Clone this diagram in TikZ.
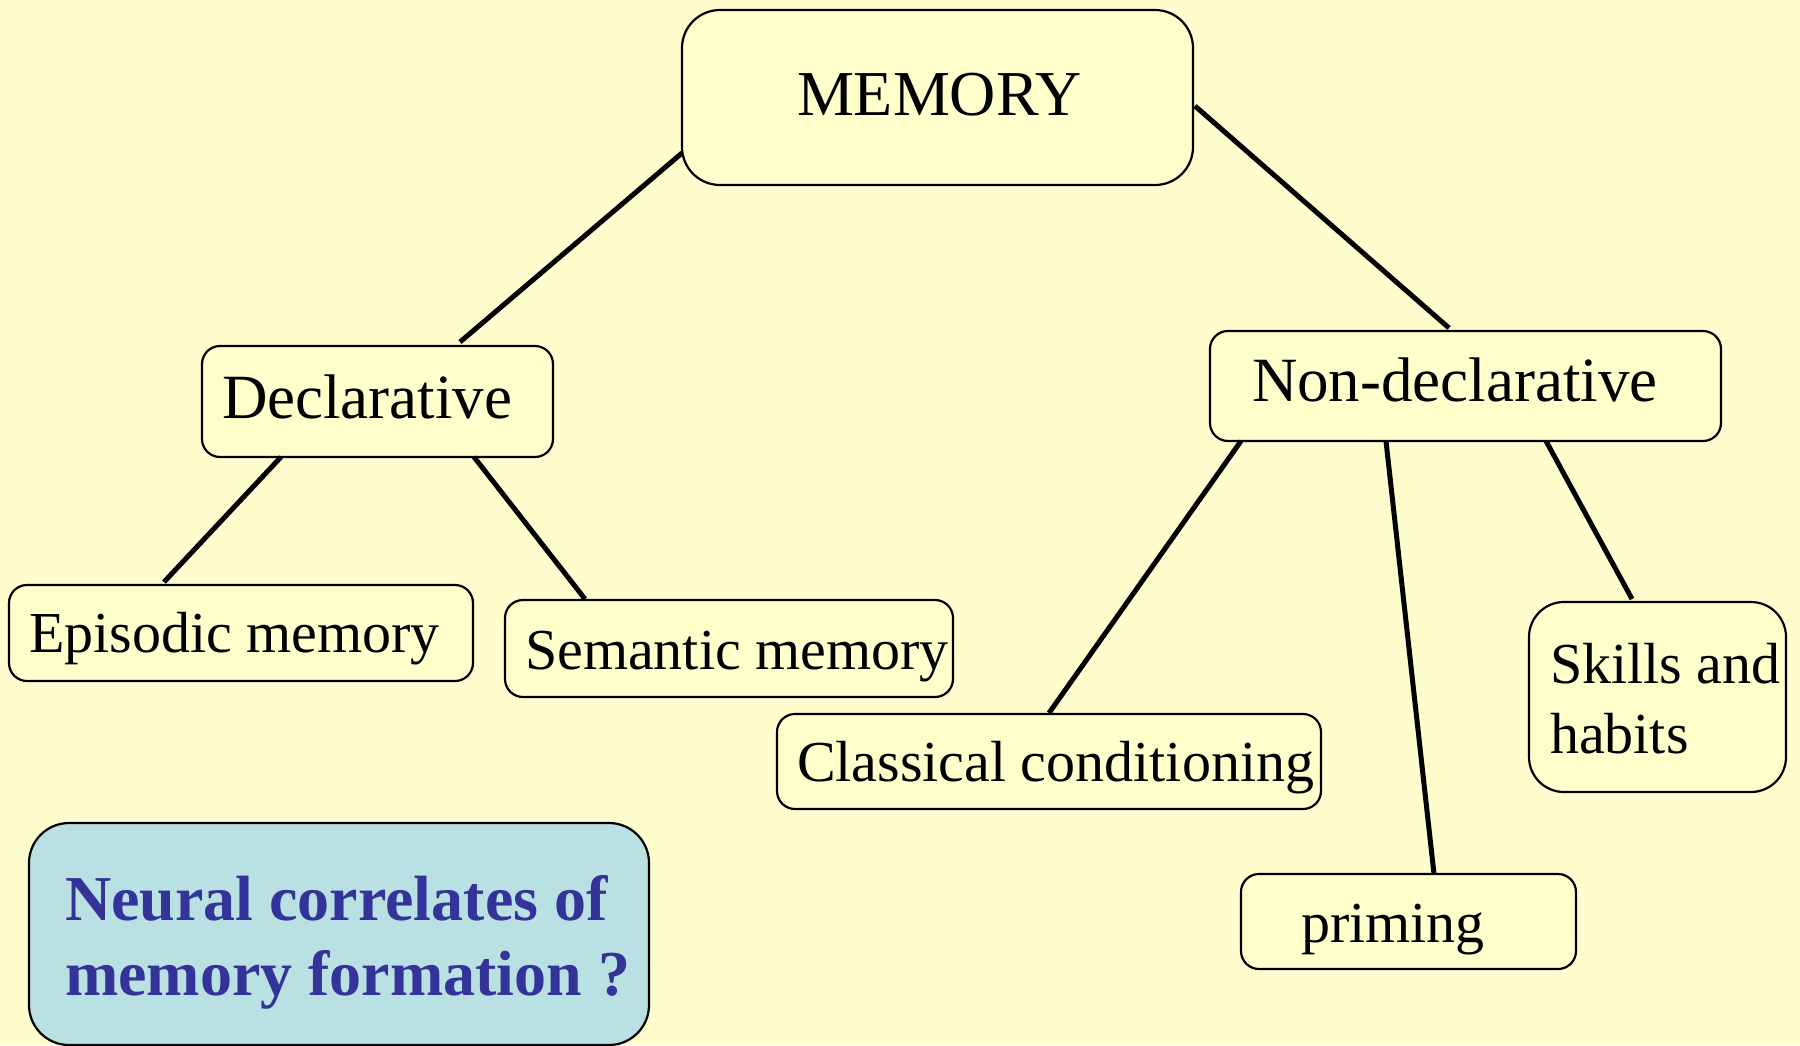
\documentclass[tikz,border=0pt]{standalone}
\usepackage{fontspec}
\setmainfont{Liberation Serif}
\usetikzlibrary{calc}
\definecolor{pagebg}{RGB}{255,252,206}
\definecolor{boxfill}{RGB}{255,255,204}
\definecolor{qfill}{RGB}{185,224,226}
\definecolor{qtext}{RGB}{51,51,153}
\tikzset{
  box/.style={draw=black, line width=2.2pt, fill=boxfill, rounded corners=18pt,
    inner sep=0pt, outer sep=0pt, anchor=north west},
  lbl/.style={inner sep=0pt, outer sep=0pt, anchor=base west},
  leaf/.style={lbl, font=\fontsize{58}{70}\selectfont},
  mid/.style={lbl, font=\fontsize{63}{75}\selectfont},
  link/.style={draw=black, line width=5pt}
}
\begin{document}
\begin{tikzpicture}[x=1pt,y=-1pt]
\useasboundingbox[fill=pagebg] (0,0) rectangle (1800,1045);

% boxes
\node[box, rounded corners=38pt, minimum width=511pt, minimum height=175pt] (mem) at (682,10) {};
\node[box, minimum width=351pt, minimum height=111pt] (decl) at (202,346) {};
\node[box, minimum width=511pt, minimum height=110pt] (nd) at (1210,331) {};
\node[box, minimum width=464pt, minimum height=96pt] (epi) at (9,585) {};
\node[box, minimum width=448pt, minimum height=97pt] (sem) at (505,600) {};
\node[box, minimum width=544pt, minimum height=95pt] (cla) at (777,714) {};
\node[box, rounded corners=35pt, minimum width=257pt, minimum height=190pt] (ski) at (1529,602) {};
\node[box, minimum width=335pt, minimum height=95pt] (pri) at (1241,874) {};
\node[box, fill=qfill, rounded corners=40pt, minimum width=620pt, minimum height=222pt] (neu) at (29,823) {};

% labels
\node[lbl, font=\fontsize{64}{76}\selectfont] (memt) at (797,115) {MEMORY};
\node[mid] (declt) at (222,418) {Declarative};
\node[mid] (ndt) at (1252,401) {Non-declarative};
\node[leaf] (epit) at (29,652) {Episodic memory};
\node[leaf] (semt) at (525,669) {Semantic memory};
\node[leaf] (clat) at (797,781) {Classical conditioning};
\node[leaf, anchor=north west, align=left] (skit) at (1550,643) {Skills and\\habits};
\node[leaf] (prit) at (1301,942) {priming};
\node[inner sep=0pt, outer sep=0pt, anchor=north west, align=left, text=qtext,
      font=\fontsize{64}{75}\selectfont\bfseries] (neut) at (65,875) {Neural correlates of\\memory formation ?};

% connectors
\draw[link] ($(mem.north west)+(0,143)$) -- ($(decl.north west)+(258,-4)$);
\draw[link] ($(mem.north east)+(2,96)$) -- ($(nd.north west)+(239,-3)$);
\draw[link] ($(decl.south west)+(79,0)$) -- ($(epi.north west)+(155,-3)$);
\draw[link] ($(decl.south west)+(272,0)$) -- ($(sem.north west)+(80,-1)$);
\draw[link] ($(nd.south west)+(31,0)$) -- ($(cla.north west)+(272,-1)$);
\draw[link] ($(nd.south west)+(176,0)$) -- ($(pri.north west)+(193,0)$);
\draw[link] ($(nd.south west)+(336,0)$) -- ($(ski.north west)+(103,-3)$);
\end{tikzpicture}
\end{document}
